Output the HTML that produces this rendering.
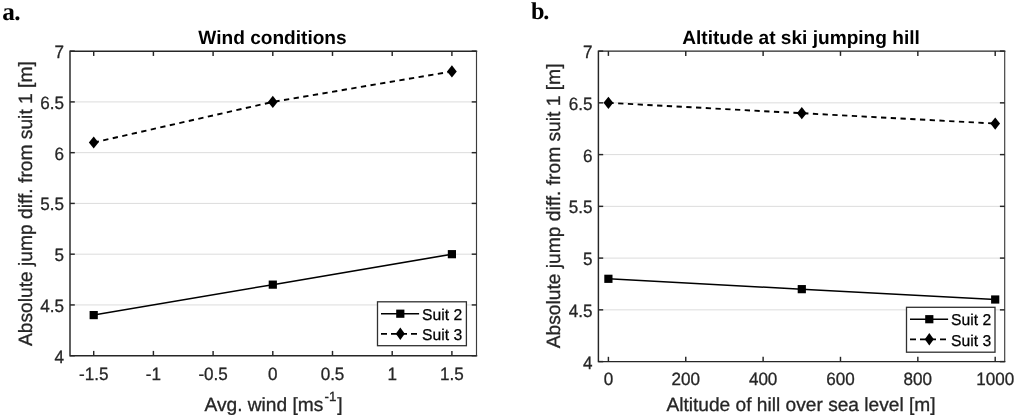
<!DOCTYPE html>
<html><head><meta charset="utf-8"><title>Figure</title>
<style>
html,body{margin:0;padding:0;background:#fff;}
body{width:1022px;height:418px;overflow:hidden;}
svg{display:block;}
text{font-family:"Liberation Sans",Arial,Helvetica,sans-serif;fill:#262626;text-rendering:geometricPrecision;}
.tk{font-size:17.8px;stroke:#262626;stroke-width:0.3px;}
.lb{font-size:19.15px;stroke:#262626;stroke-width:0.3px;}
.tt{font-size:19.1px;font-weight:bold;fill:#000;}
.lg{font-size:15.7px;fill:#000;stroke:#000;stroke-width:0.25px;}
.pn{font-family:"Liberation Serif","Times New Roman",serif;font-weight:bold;font-size:25.3px;fill:#000;text-rendering:geometricPrecision;}
</style></head><body>
<svg width="1022" height="418" viewBox="0 0 1022 418">
<rect width="1022" height="418" fill="#fff"/>
<text x="2.3" y="19.6" class="pn">a<tspan dx="-0.7">.</tspan></text>
<text x="530.9" y="19.4" class="pn" style="font-size:24.3px">b<tspan dx="-1.1">.</tspan></text>
<line x1="70" x2="476.5" y1="304.94" y2="304.94" stroke="#dcdcdc" stroke-width="1"/>
<line x1="70" x2="476.5" y1="254.18" y2="254.18" stroke="#dcdcdc" stroke-width="1"/>
<line x1="70" x2="476.5" y1="203.42" y2="203.42" stroke="#dcdcdc" stroke-width="1"/>
<line x1="70" x2="476.5" y1="152.67" y2="152.67" stroke="#dcdcdc" stroke-width="1"/>
<line x1="70" x2="476.5" y1="101.91" y2="101.91" stroke="#dcdcdc" stroke-width="1"/>
<path d="M476.5 51.15H70V355.7H476.5" fill="none" stroke="#262626" stroke-width="1.45" stroke-linejoin="miter" stroke-linecap="square"/>
<line x1="476.5" x2="476.5" y1="51.15" y2="355.7" stroke="#3c3c3c" stroke-width="1.15"/>
<line x1="93.70" x2="93.70" y1="355.7" y2="350.9" stroke="#262626" stroke-width="1.45"/>
<line x1="93.70" x2="93.70" y1="51.15" y2="55.949999999999996" stroke="#262626" stroke-width="1.45"/>
<text transform="translate(93.70 380.00) scale(0.96 1)" class="tk" text-anchor="middle">-1.5</text>
<line x1="153.40" x2="153.40" y1="355.7" y2="350.9" stroke="#262626" stroke-width="1.45"/>
<line x1="153.40" x2="153.40" y1="51.15" y2="55.949999999999996" stroke="#262626" stroke-width="1.45"/>
<text transform="translate(153.40 380.00) scale(0.96 1)" class="tk" text-anchor="middle">-1</text>
<line x1="213.10" x2="213.10" y1="355.7" y2="350.9" stroke="#262626" stroke-width="1.45"/>
<line x1="213.10" x2="213.10" y1="51.15" y2="55.949999999999996" stroke="#262626" stroke-width="1.45"/>
<text transform="translate(213.10 380.00) scale(0.96 1)" class="tk" text-anchor="middle">-0.5</text>
<line x1="272.80" x2="272.80" y1="355.7" y2="350.9" stroke="#262626" stroke-width="1.45"/>
<line x1="272.80" x2="272.80" y1="51.15" y2="55.949999999999996" stroke="#262626" stroke-width="1.45"/>
<text transform="translate(272.80 380.00) scale(0.96 1)" class="tk" text-anchor="middle">0</text>
<line x1="332.50" x2="332.50" y1="355.7" y2="350.9" stroke="#262626" stroke-width="1.45"/>
<line x1="332.50" x2="332.50" y1="51.15" y2="55.949999999999996" stroke="#262626" stroke-width="1.45"/>
<text transform="translate(332.50 380.00) scale(0.96 1)" class="tk" text-anchor="middle">0.5</text>
<line x1="392.20" x2="392.20" y1="355.7" y2="350.9" stroke="#262626" stroke-width="1.45"/>
<line x1="392.20" x2="392.20" y1="51.15" y2="55.949999999999996" stroke="#262626" stroke-width="1.45"/>
<text transform="translate(392.20 380.00) scale(0.96 1)" class="tk" text-anchor="middle">1</text>
<line x1="451.90" x2="451.90" y1="355.7" y2="350.9" stroke="#262626" stroke-width="1.45"/>
<line x1="451.90" x2="451.90" y1="51.15" y2="55.949999999999996" stroke="#262626" stroke-width="1.45"/>
<text transform="translate(451.90 380.00) scale(0.96 1)" class="tk" text-anchor="middle">1.5</text>
<line x1="70" x2="74.8" y1="355.70" y2="355.70" stroke="#262626" stroke-width="1.45"/>
<line x1="476.5" x2="471.7" y1="355.70" y2="355.70" stroke="#262626" stroke-width="1.45"/>
<text transform="translate(64.00 362.60) scale(0.96 1)" class="tk" text-anchor="end">4</text>
<line x1="70" x2="74.8" y1="304.94" y2="304.94" stroke="#262626" stroke-width="1.45"/>
<line x1="476.5" x2="471.7" y1="304.94" y2="304.94" stroke="#262626" stroke-width="1.45"/>
<text transform="translate(64.00 311.84) scale(0.96 1)" class="tk" text-anchor="end">4.5</text>
<line x1="70" x2="74.8" y1="254.18" y2="254.18" stroke="#262626" stroke-width="1.45"/>
<line x1="476.5" x2="471.7" y1="254.18" y2="254.18" stroke="#262626" stroke-width="1.45"/>
<text transform="translate(64.00 261.08) scale(0.96 1)" class="tk" text-anchor="end">5</text>
<line x1="70" x2="74.8" y1="203.42" y2="203.42" stroke="#262626" stroke-width="1.45"/>
<line x1="476.5" x2="471.7" y1="203.42" y2="203.42" stroke="#262626" stroke-width="1.45"/>
<text transform="translate(64.00 210.32) scale(0.96 1)" class="tk" text-anchor="end">5.5</text>
<line x1="70" x2="74.8" y1="152.67" y2="152.67" stroke="#262626" stroke-width="1.45"/>
<line x1="476.5" x2="471.7" y1="152.67" y2="152.67" stroke="#262626" stroke-width="1.45"/>
<text transform="translate(64.00 159.57) scale(0.96 1)" class="tk" text-anchor="end">6</text>
<line x1="70" x2="74.8" y1="101.91" y2="101.91" stroke="#262626" stroke-width="1.45"/>
<line x1="476.5" x2="471.7" y1="101.91" y2="101.91" stroke="#262626" stroke-width="1.45"/>
<text transform="translate(64.00 108.81) scale(0.96 1)" class="tk" text-anchor="end">6.5</text>
<line x1="70" x2="74.8" y1="51.15" y2="51.15" stroke="#262626" stroke-width="1.45"/>
<line x1="476.5" x2="471.7" y1="51.15" y2="51.15" stroke="#262626" stroke-width="1.45"/>
<text transform="translate(64.00 58.05) scale(0.96 1)" class="tk" text-anchor="end">7</text>
<polyline fill="none" stroke="#000" stroke-width="1.5" points="93.70,315.09 272.80,284.64 451.90,254.18"/>
<polyline fill="none" stroke="#000" stroke-width="1.9" stroke-dasharray="5.3 4.45" points="93.70,142.52 272.80,101.91 451.90,71.45"/>
<rect x="89.60" y="310.99" width="8.2" height="8.2" fill="#000"/>
<rect x="268.70" y="280.54" width="8.2" height="8.2" fill="#000"/>
<rect x="447.80" y="250.08" width="8.2" height="8.2" fill="#000"/>
<path d="M93.70 136.42 L98.55 142.52 L93.70 148.62 L88.85 142.52Z" fill="#000"/>
<path d="M272.80 95.81 L277.65 101.91 L272.80 108.01 L267.95 101.91Z" fill="#000"/>
<path d="M451.90 65.35 L456.75 71.45 L451.90 77.55 L447.05 71.45Z" fill="#000"/>
<text x="272.5" y="43.65" class="tt" text-anchor="middle">Wind conditions</text>
<text x="273.6" y="411.3" class="lb" text-anchor="middle">Avg. wind [ms<tspan dy="-10" dx="1.2" font-size="13.3">-1</tspan><tspan dy="10" dx="1">]</tspan></text>
<text transform="translate(32.2 203.62499999999997) rotate(-90)" class="lb" style="font-size:19.23px" text-anchor="middle">Absolute jump diff. from suit 1 [m]</text>
<rect x="377.5" y="301.8" width="88.89999999999998" height="43.89999999999998" fill="#fff" stroke="#303030" stroke-width="1.3"/>
<line x1="381.0" x2="419.1" y1="313.7" y2="313.7" stroke="#000" stroke-width="1.5"/>
<line x1="381.0" x2="419.1" y1="333.8" y2="333.8" stroke="#000" stroke-width="1.7" stroke-dasharray="6 4"/>
<rect x="396.2" y="309.59999999999997" width="8.2" height="8.2" fill="#000"/>
<path d="M400.3 327.5 L404.8 333.8 L400.3 340.1 L395.8 333.8Z" fill="#000"/>
<text x="422.1" y="319.7" class="lg">Suit 2</text>
<text x="422.1" y="340.40000000000003" class="lg">Suit 3</text>
<line x1="598.4" x2="1004.7" y1="309.85" y2="309.85" stroke="#dcdcdc" stroke-width="1"/>
<line x1="598.4" x2="1004.7" y1="258.10" y2="258.10" stroke="#dcdcdc" stroke-width="1"/>
<line x1="598.4" x2="1004.7" y1="206.35" y2="206.35" stroke="#dcdcdc" stroke-width="1"/>
<line x1="598.4" x2="1004.7" y1="154.60" y2="154.60" stroke="#dcdcdc" stroke-width="1"/>
<line x1="598.4" x2="1004.7" y1="102.85" y2="102.85" stroke="#dcdcdc" stroke-width="1"/>
<path d="M1004.7 51.1H598.4V361.6H1004.7" fill="none" stroke="#262626" stroke-width="1.45" stroke-linejoin="miter" stroke-linecap="square"/>
<line x1="1004.7" x2="1004.7" y1="51.1" y2="361.6" stroke="#3c3c3c" stroke-width="1.15"/>
<line x1="608.40" x2="608.40" y1="361.6" y2="356.8" stroke="#262626" stroke-width="1.45"/>
<line x1="608.40" x2="608.40" y1="51.1" y2="55.9" stroke="#262626" stroke-width="1.45"/>
<text transform="translate(608.40 385.20) scale(0.96 1)" class="tk" text-anchor="middle">0</text>
<line x1="685.76" x2="685.76" y1="361.6" y2="356.8" stroke="#262626" stroke-width="1.45"/>
<line x1="685.76" x2="685.76" y1="51.1" y2="55.9" stroke="#262626" stroke-width="1.45"/>
<text transform="translate(685.76 385.20) scale(0.96 1)" class="tk" text-anchor="middle">200</text>
<line x1="763.12" x2="763.12" y1="361.6" y2="356.8" stroke="#262626" stroke-width="1.45"/>
<line x1="763.12" x2="763.12" y1="51.1" y2="55.9" stroke="#262626" stroke-width="1.45"/>
<text transform="translate(763.12 385.20) scale(0.96 1)" class="tk" text-anchor="middle">400</text>
<line x1="840.48" x2="840.48" y1="361.6" y2="356.8" stroke="#262626" stroke-width="1.45"/>
<line x1="840.48" x2="840.48" y1="51.1" y2="55.9" stroke="#262626" stroke-width="1.45"/>
<text transform="translate(840.48 385.20) scale(0.96 1)" class="tk" text-anchor="middle">600</text>
<line x1="917.84" x2="917.84" y1="361.6" y2="356.8" stroke="#262626" stroke-width="1.45"/>
<line x1="917.84" x2="917.84" y1="51.1" y2="55.9" stroke="#262626" stroke-width="1.45"/>
<text transform="translate(917.84 385.20) scale(0.96 1)" class="tk" text-anchor="middle">800</text>
<line x1="995.20" x2="995.20" y1="361.6" y2="356.8" stroke="#262626" stroke-width="1.45"/>
<line x1="995.20" x2="995.20" y1="51.1" y2="55.9" stroke="#262626" stroke-width="1.45"/>
<text transform="translate(995.20 385.20) scale(0.96 1)" class="tk" text-anchor="middle">1000</text>
<line x1="598.4" x2="603.1999999999999" y1="361.60" y2="361.60" stroke="#262626" stroke-width="1.45"/>
<line x1="1004.7" x2="999.9000000000001" y1="361.60" y2="361.60" stroke="#262626" stroke-width="1.45"/>
<text transform="translate(592.40 368.50) scale(0.96 1)" class="tk" text-anchor="end">4</text>
<line x1="598.4" x2="603.1999999999999" y1="309.85" y2="309.85" stroke="#262626" stroke-width="1.45"/>
<line x1="1004.7" x2="999.9000000000001" y1="309.85" y2="309.85" stroke="#262626" stroke-width="1.45"/>
<text transform="translate(592.40 316.75) scale(0.96 1)" class="tk" text-anchor="end">4.5</text>
<line x1="598.4" x2="603.1999999999999" y1="258.10" y2="258.10" stroke="#262626" stroke-width="1.45"/>
<line x1="1004.7" x2="999.9000000000001" y1="258.10" y2="258.10" stroke="#262626" stroke-width="1.45"/>
<text transform="translate(592.40 265.00) scale(0.96 1)" class="tk" text-anchor="end">5</text>
<line x1="598.4" x2="603.1999999999999" y1="206.35" y2="206.35" stroke="#262626" stroke-width="1.45"/>
<line x1="1004.7" x2="999.9000000000001" y1="206.35" y2="206.35" stroke="#262626" stroke-width="1.45"/>
<text transform="translate(592.40 213.25) scale(0.96 1)" class="tk" text-anchor="end">5.5</text>
<line x1="598.4" x2="603.1999999999999" y1="154.60" y2="154.60" stroke="#262626" stroke-width="1.45"/>
<line x1="1004.7" x2="999.9000000000001" y1="154.60" y2="154.60" stroke="#262626" stroke-width="1.45"/>
<text transform="translate(592.40 161.50) scale(0.96 1)" class="tk" text-anchor="end">6</text>
<line x1="598.4" x2="603.1999999999999" y1="102.85" y2="102.85" stroke="#262626" stroke-width="1.45"/>
<line x1="1004.7" x2="999.9000000000001" y1="102.85" y2="102.85" stroke="#262626" stroke-width="1.45"/>
<text transform="translate(592.40 109.75) scale(0.96 1)" class="tk" text-anchor="end">6.5</text>
<line x1="598.4" x2="603.1999999999999" y1="51.10" y2="51.10" stroke="#262626" stroke-width="1.45"/>
<line x1="1004.7" x2="999.9000000000001" y1="51.10" y2="51.10" stroke="#262626" stroke-width="1.45"/>
<text transform="translate(592.40 58.00) scale(0.96 1)" class="tk" text-anchor="end">7</text>
<polyline fill="none" stroke="#000" stroke-width="1.5" points="608.40,278.80 801.80,289.15 995.20,299.50"/>
<polyline fill="none" stroke="#000" stroke-width="1.9" stroke-dasharray="5.3 4.45" points="608.40,102.85 801.80,113.20 995.20,123.55"/>
<rect x="604.30" y="274.70" width="8.2" height="8.2" fill="#000"/>
<rect x="797.70" y="285.05" width="8.2" height="8.2" fill="#000"/>
<rect x="991.10" y="295.40" width="8.2" height="8.2" fill="#000"/>
<path d="M608.40 96.75 L613.25 102.85 L608.40 108.95 L603.55 102.85Z" fill="#000"/>
<path d="M801.80 107.10 L806.65 113.20 L801.80 119.30 L796.95 113.20Z" fill="#000"/>
<path d="M995.20 117.45 L1000.05 123.55 L995.20 129.65 L990.35 123.55Z" fill="#000"/>
<text x="801" y="43.6" class="tt" text-anchor="middle">Altitude at ski jumping hill</text>
<text x="801" y="410.7" class="lb" text-anchor="middle">Altitude of hill over sea level [m]</text>
<text transform="translate(560.2 205.95000000000002) rotate(-90)" class="lb" style="font-size:19.23px" text-anchor="middle">Absolute jump diff. from suit 1 [m]</text>
<rect x="906.5" y="307.3" width="88.5" height="44.89999999999998" fill="#fff" stroke="#303030" stroke-width="1.3"/>
<line x1="910.0" x2="948.1" y1="319.2" y2="319.2" stroke="#000" stroke-width="1.5"/>
<line x1="910.0" x2="948.1" y1="339.3" y2="339.3" stroke="#000" stroke-width="1.7" stroke-dasharray="6 4"/>
<rect x="925.1999999999999" y="315.09999999999997" width="8.2" height="8.2" fill="#000"/>
<path d="M929.3 333.0 L933.8 339.3 L929.3 345.6 L924.8 339.3Z" fill="#000"/>
<text x="951.1" y="325.2" class="lg">Suit 2</text>
<text x="951.1" y="345.90000000000003" class="lg">Suit 3</text>
</svg>
</body></html>
